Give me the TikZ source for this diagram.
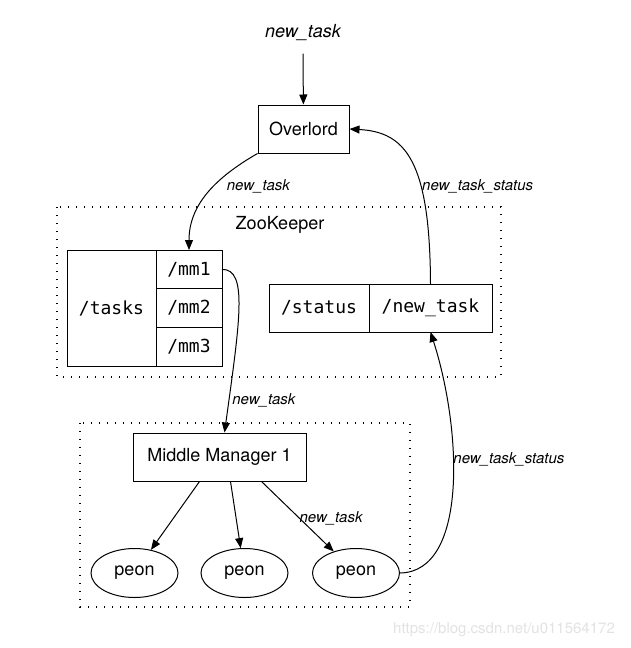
\documentclass[tikz,border=0pt]{standalone}
\usepackage{fontspec}
\setmainfont{TeX Gyre Heros}
\setmonofont{DejaVu Sans Mono}
\usepackage{tikz}
\usetikzlibrary{positioning,arrows.meta,calc,shapes.geometric}
\definecolor{inkc}{RGB}{0,0,0}
\definecolor{markc}{RGB}{226,226,226}
\tikzset{
  proc/.style    = {draw=inkc, line width=1pt, minimum height=48pt, inner sep=0pt,
                    font=\fontsize{18}{20}\selectfont},
  cell/.style    = {draw=inkc, line width=1pt, inner sep=0pt, outer sep=0pt,
                    font=\fontsize{18}{20}\selectfont\ttfamily},
  worker/.style  = {draw=inkc, ellipse, line width=1pt, minimum width=87pt, minimum height=49pt,
                    inner sep=0pt, font=\fontsize{18}{20}\selectfont},
  cluster/.style = {draw=inkc, line width=1.2pt, dash pattern=on 1.4pt off 6.6pt},
  flow/.style    = {-{Triangle[length=10pt,width=8pt]}, line width=1pt, draw=inkc},
  lbl/.style     = {font=\fontsize{15}{17}\selectfont\itshape, inner sep=0pt},
}

\begin{document}
\begin{tikzpicture}[x=1pt,y=-1pt]
\useasboundingbox (0,0) rectangle (631,648);

\node[font=\fontsize{18}{20}\selectfont\itshape] (input) at (303,33) {new\_task};
\node[proc, minimum width=91pt] (ov) at (303.5,129) {Overlord};

% zookeeper
\draw[cluster] (57,207) rectangle (501,377);
\node[font=\fontsize{18}{20}\selectfont] (zk) at (280,225) {ZooKeeper};
\node[cell, minimum width=89pt, minimum height=116pt] (tasks) at (111.5,308) {/tasks};
\node[cell, minimum width=66pt, minimum height=38.67pt, anchor=north west] (mm1) at (tasks.north east) {/mm1};
\node[cell, minimum width=66pt, minimum height=38.67pt, below=0pt of mm1] (mm2) {/mm2};
\node[cell, minimum width=66pt, minimum height=38.67pt, below=0pt of mm2] (mm3) {/mm3};
\node[cell, minimum width=100pt, minimum height=48pt] (status) at (319,308) {/status};
\node[cell, minimum width=123pt, minimum height=48pt, right=0pt of status] (nt) {/new\_task};

% middle manager
\draw[cluster] (80,423) rectangle (410,607);
\node[proc, minimum width=173pt] (mm) at (219.5,457) {Middle Manager 1};
\node[worker] (p1) at (134.5,573) {peon};
\node[worker] (p2) at (244.5,573) {peon};
\node[worker] (p3) at (356,573) {peon};

\draw[flow, shorten <=9pt] (input.south) -- (ov);
\draw[flow] (ov.south west) .. controls (215,178) and (189,205) .. node[lbl, pos=0.42, right=13pt] {new\_task} (mm1.north);
\draw[flow] (mm1.east) .. controls (248,269) and (240,320) .. node[lbl, pos=0.9, right=3pt] {new\_task} ([xshift=5pt]mm.north);
\draw[flow] ([xshift=-20pt]mm.south) -- (p1);
\draw[flow] ([xshift=11pt]mm.south) -- (p2);
\draw[flow] ([xshift=42pt]mm.south) -- node[lbl, pos=0.52, anchor=west] {new\_task} (p3);
\draw[flow] (p3.east) .. controls (468,572) and (462,430) .. node[lbl, pos=0.6, anchor=west] {new\_task\_status} (nt.south);
\draw[flow] (nt.north) .. controls (430,160) and (405,132) .. node[lbl, pos=0.35, right=1pt] {new\_task\_status} (ov.east);

\node[font=\fontsize{15}{17}\selectfont, text=markc] (mark) at (504,630) {https://blog.csdn.net/u011564172};
\end{tikzpicture}
\end{document}
